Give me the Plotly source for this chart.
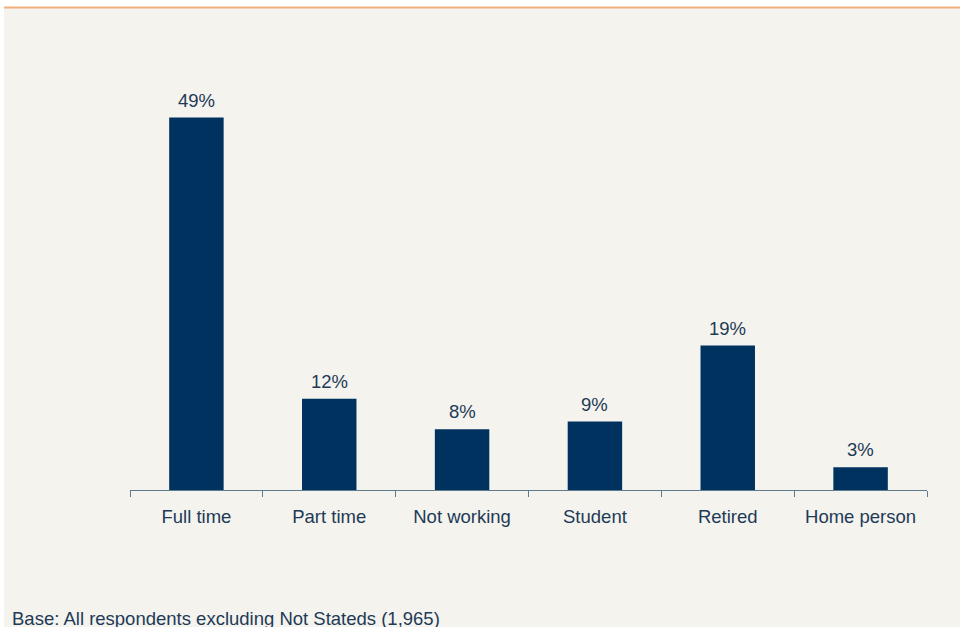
import plotly.graph_objects as go

categories = ["Full time", "Part time", "Not working", "Student", "Retired", "Home person"]
shares = [49, 12, 8, 9, 19, 3]
note = "Base: All respondents excluding Not Stateds (1,965)"

W, H = 960, 627
L, R, T, B = 130, 33, 72, 137
plot_w = W - L - R
plot_h = H - T - B

bg = "#F4F3EE"
bar_color = "#00325F"
text_color = "#1E3A56"
axis_color = "#5E7C8E"
font = "Liberation Sans, Arial, sans-serif"
fsize = 18.5


def px_x(px):
    return (px - L) / plot_w


def px_y(py):
    return (H - B - py) / plot_h


fig = go.Figure(
    go.Bar(
        x=categories,
        y=shares,
        marker=dict(color=bar_color, line=dict(width=0)),
        hoverinfo="skip",
    )
)

# value labels above each bar
for c, v in zip(categories, shares):
    fig.add_annotation(
        x=c, y=v, text=f"{v}%", showarrow=False,
        yanchor="bottom", yshift=5,
        font=dict(size=fsize, color=text_color, family=font),
    )

fig.add_annotation(
    xref="paper", yref="paper", x=px_x(10), y=px_y(618),
    xanchor="left", yanchor="middle", text=note, showarrow=False,
    font=dict(size=fsize, color=text_color, family=font),
)

# white frame around the panel and the orange rule on top
fig.add_shape(type="rect", xref="paper", yref="paper", layer="below",
              x0=px_x(0), x1=px_x(4), y0=px_y(H), y1=px_y(0),
              fillcolor="white", line=dict(width=0))
fig.add_shape(type="rect", xref="paper", yref="paper", layer="below",
              x0=px_x(0), x1=px_x(W), y0=px_y(7), y1=px_y(0),
              fillcolor="white", line=dict(width=0))
fig.add_shape(type="line", xref="paper", yref="paper",
              x0=px_x(4), x1=px_x(W), y0=px_y(7.5), y1=px_y(7.5),
              line=dict(color="#F4AF7E", width=2))

fig.update_layout(
    width=W, height=H,
    margin=dict(l=L, r=R, t=T, b=B),
    paper_bgcolor=bg, plot_bgcolor=bg,
    bargap=0.59,
    showlegend=False,
    font=dict(family=font, color=text_color, size=fsize),
    xaxis=dict(
        type="category", tickson="boundaries", ticks="outside", ticklen=6,
        tickcolor=axis_color, tickwidth=1,
        showline=True, linecolor=axis_color, linewidth=1,
        showgrid=False, zeroline=False,
        tickfont=dict(size=fsize, color=text_color, family=font),
        ticklabelstandoff=10,
    ),
    yaxis=dict(range=[0, 55], visible=False, showgrid=False, zeroline=False),
)

fig.write_html("out.html")
